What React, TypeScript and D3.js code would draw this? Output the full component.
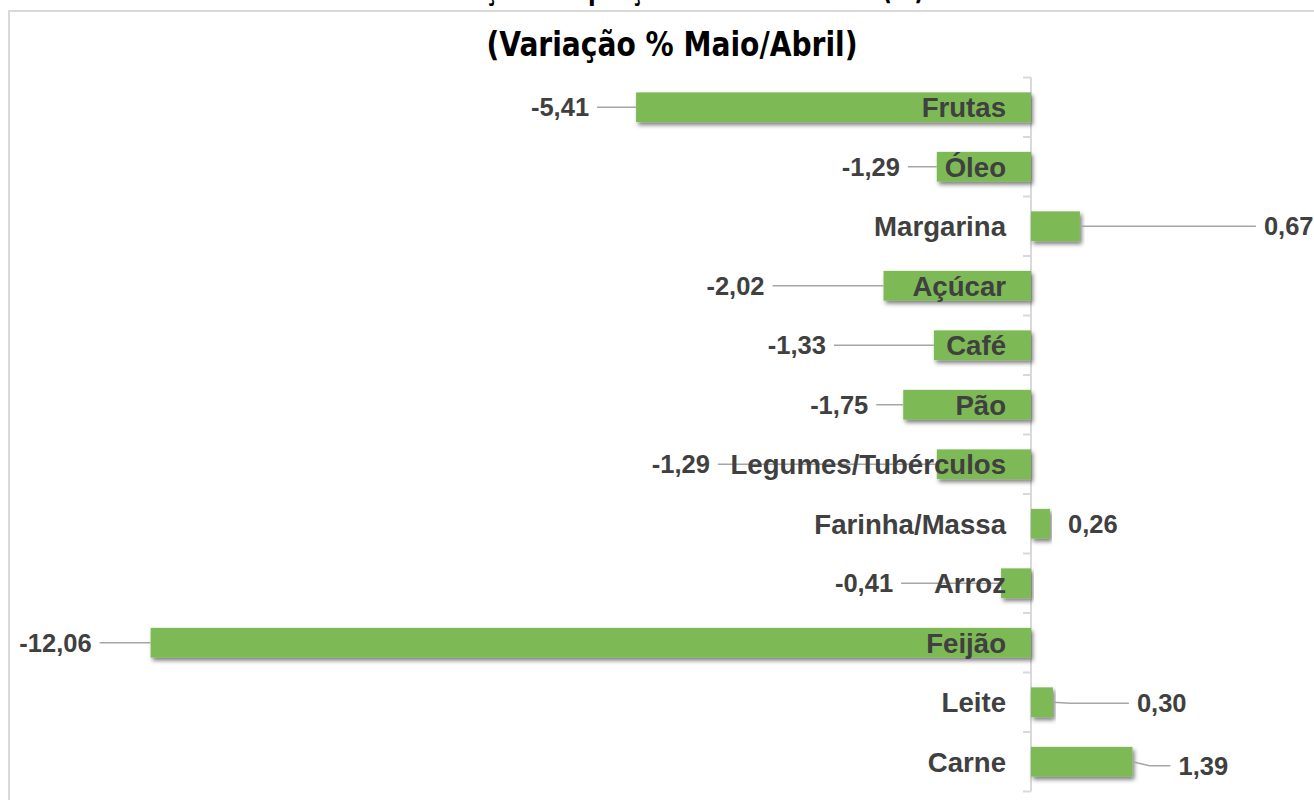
import React from 'react';
import * as d3 from 'd3';

const categories = [
  'Frutas',
  'Óleo',
  'Margarina',
  'Açúcar',
  'Café',
  'Pão',
  'Legumes/Tubérculos',
  'Farinha/Massa',
  'Arroz',
  'Feijão',
  'Leite',
  'Carne',
];
const values = [-5.41, -1.29, 0.67, -2.02, -1.33, -1.75, -1.29, 0.26, -0.41, -12.06, 0.3, 1.39];

const titleTop = 'Variação dos preços da cesta básica (%)';
const subtitle = '(Variação % Maio/Abril)';

// hand-placed data labels (px from bar end), like the Excel original
const labelGap = [47, 37, 184, 119, 108, 35, 227, 18, 108, 59, 84, 46];
const labelDy = [0, 0, 0, 0, 0, 0, 0, 0, 0, 0, 1, 4];

const W = 1314;
const H = 800;
const GREEN = '#7dba56';
const TEXT = '#404040';
const FRAME = '#d9d9d9';
const FONT = '"Liberation Sans", Arial, sans-serif';
const TITLE_FONT = '"Liberation Sans Narrow", "DejaVu Sans Condensed", sans-serif';

const ptBR = d3.formatLocale({
  decimal: ',',
  thousands: '.',
  grouping: [3],
  currency: ['R$', ''],
  minus: '-',
});
const fmt = ptBR.format('.2f');

export default function App() {
  const x = d3.scaleLinear().domain([-14, 4]).range([9, 9 + 18 * 73]);
  const y = d3
    .scaleBand<string>()
    .domain(categories)
    .range([77.5, 791.5])
    .paddingInner(0.5)
    .paddingOuter(0.25);
  const x0 = x(0);
  const bw = y.bandwidth();
  const step = y.step();
  const bandEdges = d3.range(categories.length + 1).map((i) => 77.5 + i * step);

  return (
    <div style={{ position: 'absolute', left: 0, top: 0 }}>
      <svg width={W} height={H} style={{ display: 'block', background: '#fff' }}>
        <defs>
          <filter id="shadow" x="-5%" y="-30%" width="115%" height="180%">
            <feDropShadow dx={2} dy={3} stdDeviation={2} floodColor="#000" floodOpacity={0.5} />
          </filter>
        </defs>

        {/* chart frame */}
        <line x1={9} x2={W} y1={11} y2={11} stroke={FRAME} strokeWidth={2} />
        <line x1={9} x2={9} y1={10} y2={H} stroke={FRAME} strokeWidth={2} />

        {/* first title line, cut off by the top edge as in the original screenshot */}
        <text
          x={672}
          y={-1}
          textAnchor="middle"
          fontFamily={TITLE_FONT}
          fontWeight="bold"
          fontSize={34}
          fill="#000"
          textLength={505}
          lengthAdjust="spacingAndGlyphs"
        >
          {titleTop}
        </text>
        <text
          x={672}
          y={56}
          textAnchor="middle"
          fontFamily={TITLE_FONT}
          fontWeight="bold"
          fontSize={34}
          fill="#000"
          textLength={371}
          lengthAdjust="spacingAndGlyphs"
        >
          {subtitle}
        </text>

        {/* category axis */}
        <line x1={x0} x2={x0} y1={bandEdges[0]} y2={bandEdges[bandEdges.length - 1]} stroke={FRAME} strokeWidth={2} />
        {bandEdges.map((e, i) => (
          <line key={i} x1={x0 - 8} x2={x0} y1={e} y2={e} stroke={FRAME} strokeWidth={2} />
        ))}

        {/* bars */}
        {categories.map((c, i) => {
          const v = values[i];
          const xa = Math.min(x(v), x0);
          const xb = Math.max(x(v), x0);
          return (
            <rect key={c} x={xa} y={y(c)!} width={xb - xa} height={bw} fill={GREEN} filter="url(#shadow)" />
          );
        })}

        {/* leader lines */}
        {categories.map((c, i) => {
          const v = values[i];
          const gap = labelGap[i];
          if (gap < 25) return null;
          const dir = v < 0 ? -1 : 1;
          const xe = x(v);
          const yc = y(c)! + bw / 2;
          const yl = yc + labelDy[i];
          const pts: [number, number][] = [
            [xe, yc],
            [xe + dir * Math.min(17, gap - 8), yl],
            [xe + dir * (gap - 8), yl],
          ];
          return (
            <path key={c} d={d3.line()(pts)!} fill="none" stroke="#a6a6a6" strokeWidth={1.5} />
          );
        })}

        {/* category labels */}
        {categories.map((c) => (
          <text
            key={c}
            x={x0 - 25}
            y={y(c)! + bw / 2}
            dy="0.36em"
            textAnchor="end"
            fontFamily={FONT}
            fontWeight="bold"
            fontSize={27.6}
            fill={TEXT}
          >
            {c}
          </text>
        ))}

        {/* value labels */}
        {categories.map((c, i) => {
          const v = values[i];
          const neg = v < 0;
          return (
            <text
              key={c}
              x={x(v) + (neg ? -labelGap[i] : labelGap[i])}
              y={y(c)! + bw / 2 + labelDy[i]}
              dy="0.36em"
              textAnchor={neg ? 'end' : 'start'}
              fontFamily={FONT}
              fontWeight="bold"
              fontSize={25.5}
              fill={TEXT}
            >
              {fmt(v)}
            </text>
          );
        })}
      </svg>
    </div>
  );
}
